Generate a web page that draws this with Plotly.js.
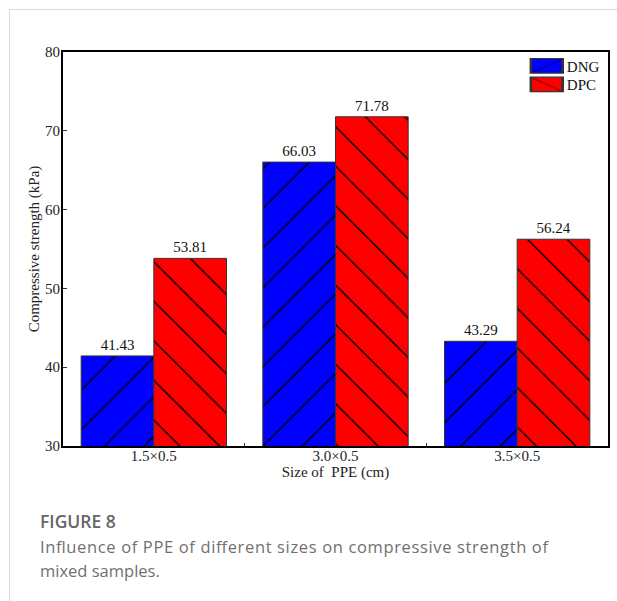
<!DOCTYPE html>
<html>
<head>
<meta charset="utf-8">
<script src="https://cdn.plot.ly/plotly-3.0.1.min.js"></script>
<style>
  html, body { margin: 0; padding: 0; background: #fff; }
  #wrap { position: relative; width: 617px; height: 601px; overflow: hidden; }
  #chart { position: absolute; left: 0; top: 0; width: 617px; height: 601px; }
  #overlay { position: absolute; left: 0; top: 0; pointer-events: none; }
</style>
</head>
<body>
<div id="wrap">
  <div id="chart"></div>
  <svg id="overlay" width="617" height="601">
    <line x1="9.5" y1="9.5" x2="617" y2="9.5" stroke="#d9d9d9" stroke-width="1"/>
    <line x1="9.5" y1="9.5" x2="9.5" y2="601" stroke="#d9d9d9" stroke-width="1"/>
    <text x="40" y="528" font-family="'Open Sans', Lato, sans-serif" font-size="17.5" font-weight="600" fill="#666666">FIGURE 8</text>
    <text x="40" y="553" font-family="'Open Sans', Lato, sans-serif" font-size="16.5" fill="#707070" textLength="508" lengthAdjust="spacing">Influence of PPE of different sizes on compressive strength of</text>
    <text x="40" y="577" font-family="'Open Sans', Lato, sans-serif" font-size="16.5" fill="#707070">mixed  samples.</text>
  </svg>
</div>
<script>
const categories = ["1.5×0.5", "3.0×0.5", "3.5×0.5"];
const dngValues = [41.43, 66.03, 43.29];
const dpcValues = [53.81, 71.78, 56.24];
const yTicks = [30, 40, 50, 60, 70, 80];

const serif = "'Liberation Serif', 'Times New Roman', serif";

const traces = [
  {
    type: "bar", name: "DNG", x: categories, y: dngValues,
    text: dngValues.map(v => v.toFixed(2)), textposition: "outside",
    textfont: {family: serif, size: 15, color: "#111"},
    cliponaxis: false,
    marker: {
      color: "#0000ff",
      line: {color: "#333", width: 1},
      pattern: {shape: "/", size: 28, solidity: 0.05, fgcolor: "#000", bgcolor: "#0000ff", fillmode: "replace"}
    }
  },
  {
    type: "bar", name: "DPC", x: categories, y: dpcValues,
    text: dpcValues.map(v => v.toFixed(2)), textposition: "outside",
    textfont: {family: serif, size: 15, color: "#111"},
    cliponaxis: false,
    marker: {
      color: "#ff0000",
      line: {color: "#333", width: 1},
      pattern: {shape: "\\", size: 28, solidity: 0.05, fgcolor: "#000", bgcolor: "#ff0000", fillmode: "replace"}
    }
  }
];

const layout = {
  width: 617, height: 601,
  margin: {l: 63, r: 9, t: 52, b: 155, pad: 0},
  paper_bgcolor: "rgba(0,0,0,0)", plot_bgcolor: "#fff",
  barmode: "group", bargap: 0.2, bargroupgap: 0,
  showlegend: true,
  legend: {
    x: 0.851, xanchor: "left", y: 1.006, yanchor: "top",
    bgcolor: "rgba(0,0,0,0)", borderwidth: 0,
    font: {family: serif, size: 15, color: "#111"},
    tracegroupgap: 0
  },
  font: {family: serif, color: "#222"},
  xaxis: {
    type: "category", range: [-0.5, 2.5],
    showline: true, linecolor: "#000", linewidth: 2, mirror: true,
    ticks: "inside", tickson: "boundaries", ticklen: 3, tickcolor: "#333",
    ticklabelstandoff: -5,
    tickfont: {family: serif, size: 15, color: "#222"},
    showgrid: false, zeroline: false,
    title: {text: "Size of  PPE (cm)", font: {family: serif, size: 15, color: "#222"}, standoff: 0}
  },
  yaxis: {
    range: [30, 80], tickvals: yTicks, ticktext: yTicks.map(String),
    showline: true, linecolor: "#000", linewidth: 2, mirror: true,
    ticks: "inside", ticklen: 4, tickcolor: "#333",
    ticklabelstandoff: -2,
    tickfont: {family: serif, size: 15, color: "#222"},
    showgrid: false, zeroline: false,
    title: {text: "Compressive strength (kPa)", font: {family: serif, size: 15, color: "#222"}, standoff: 2}
  }
};

Plotly.newPlot("chart", traces, layout, {displayModeBar: false, staticPlot: true}).then(function (gd) {
  gd.querySelectorAll(".legend .legendpoints path").forEach(function (p) {
    const t = p.getAttribute("transform") || "";
    p.setAttribute("transform", t + " scale(2.65,1.2)");
  });
  const items = gd.querySelectorAll(".legend .traces");
  items.forEach(function (g, i) {
    const t = g.getAttribute("transform") || "";
    const m = t.match(/translate\(\s*([-\d.]+)[ ,]+([-\d.]+)\s*\)/);
    if (m && i > 0) {
      const y = parseFloat(m[2]) - 4 * i;
      g.setAttribute("transform", "translate(" + m[1] + "," + y + ")");
    }
  });
});
</script>
</body>
</html>
